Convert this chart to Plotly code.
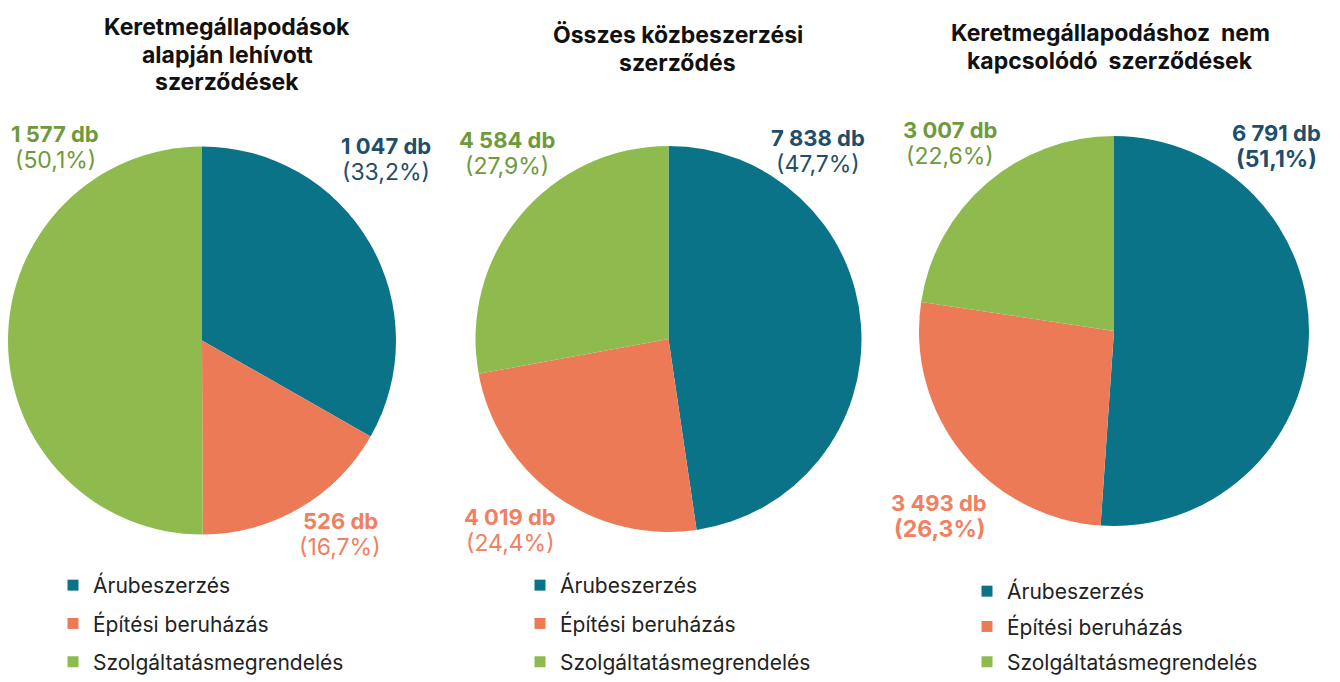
import plotly.graph_objects as go

categories = ["Árubeszerzés", "Építési beruházás", "Szolgáltatásmegrendelés"]
titles = [
    ["Keretmegállapodások", "alapján lehívott", "szerződések"],
    ["Összes közbeszerzési", "szerződés"],
    ["Keretmegállapodáshoz  nem", "kapcsolódó  szerződések"],
]
values_keret = [1047, 526, 1577]
values_osszes = [7838, 4019, 4584]
values_nem_keret = [6791, 3493, 3007]

colors = ["#0a7388", "#ec7a57", "#8fbb4e"]
label_colors = ["#1f4e6a", "#f08061", "#6f9a3c"]

W, H = 1340, 682
FONT = "Inter, Roboto, Arial, sans-serif"

def fmt_num(v):
    return f"{v:,}".replace(",", " ") + " db"

def fmt_pct(v, tot):
    return "(" + f"{100 * v / tot:.1f}".replace(".", ",") + "%)"

def px(x, y):
    return x / W, 1 - y / H

# domains in pixels: (left, right, top, bottom)
domains_px = [(8, 396, 146, 535), (475, 862, 146, 532), (919, 1309, 136, 526)]
# label anchor positions (px): per pie, per category (x, y of first line)
label_pos = [
    [(386, 146), (340, 521), (55, 134)],
    [(818, 138), (510, 517), (507, 140)],
    [(1276, 133), (939, 503), (950, 130)],
]
pct_bold = [[False, False, False], [False, False, False], [True, True, False]]
title_pos = [(227, 27), (678, 35), (1110, 33)]
title_step = 27.5
legend_x = [53, 520, 967]
legend_gap = [8, 8, 5]

all_values = [values_keret, values_osszes, values_nem_keret]

fig = go.Figure()
annotations = []
for i, vals in enumerate(all_values):
    l, r, t, b = domains_px[i]
    fig.add_trace(go.Pie(
        labels=categories,
        values=vals,
        sort=False,
        direction="clockwise",
        rotation=0,
        marker=dict(colors=colors, line=dict(width=0)),
        textinfo="none",
        hoverinfo="label+value+percent",
        domain=dict(x=[l / W, r / W], y=[1 - b / H, 1 - t / H]),
        showlegend=False,
    ))
    legend_name = "legend" if i == 0 else f"legend{i + 1}"
    for j, cat in enumerate(categories):
        fig.add_trace(go.Scatter(
            x=[None], y=[None], mode="markers", name=cat,
            marker=dict(symbol="square", size=11, color=colors[j]),
            legend=legend_name, legendgroup=f"g{i}_{j}", showlegend=True,
        ))
    tot = sum(vals)
    for j, v in enumerate(vals):
        x, y = label_pos[i][j]
        ax, ay = px(x, y)
        annotations.append(dict(
            x=ax, y=ay, xref="paper", yref="paper",
            text="<b>" + fmt_num(v) + "</b>", showarrow=False,
            font=dict(size=22, color=label_colors[j], family=FONT),
            xanchor="center", yanchor="middle"))
        pt = fmt_pct(v, tot)
        if pct_bold[i][j]:
            pt = "<b>" + pt + "</b>"
        ax, ay = px(x, y + 26)
        annotations.append(dict(
            x=ax, y=ay, xref="paper", yref="paper",
            text=pt, showarrow=False,
            font=dict(size=23, color=label_colors[j], family=FONT),
            xanchor="center", yanchor="middle"))
    tx, ty = title_pos[i]
    for k, line in enumerate(titles[i]):
        ax, ay = px(tx, ty + k * title_step)
        annotations.append(dict(
            x=ax, y=ay, xref="paper", yref="paper",
            text="<b>" + line + "</b>", showarrow=False,
            font=dict(size=23, color="#111111", family=FONT),
            xanchor="center", yanchor="middle", align="center"))

legend_common = dict(
    font=dict(size=21, color="#222222", family=FONT),
    bgcolor="rgba(0,0,0,0)",
    xanchor="left", yanchor="bottom",
    itemwidth=30,
    traceorder="grouped",
)
layout_legends = {}
for i in range(3):
    key = "legend" if i == 0 else f"legend{i + 1}"
    layout_legends[key] = dict(legend_common, x=legend_x[i] / W, y=0,
                               tracegroupgap=legend_gap[i])

fig.update_layout(
    width=W, height=H,
    margin=dict(l=0, r=0, t=0, b=0, autoexpand=False),
    paper_bgcolor="white",
    plot_bgcolor="white",
    separators=", ",
    annotations=annotations,
    font=dict(family=FONT),
    xaxis=dict(visible=False),
    yaxis=dict(visible=False),
    **layout_legends,
)

fig.write_html("out.html", config={"displayModeBar": False},
               post_script="document.body.style.margin='0';")
